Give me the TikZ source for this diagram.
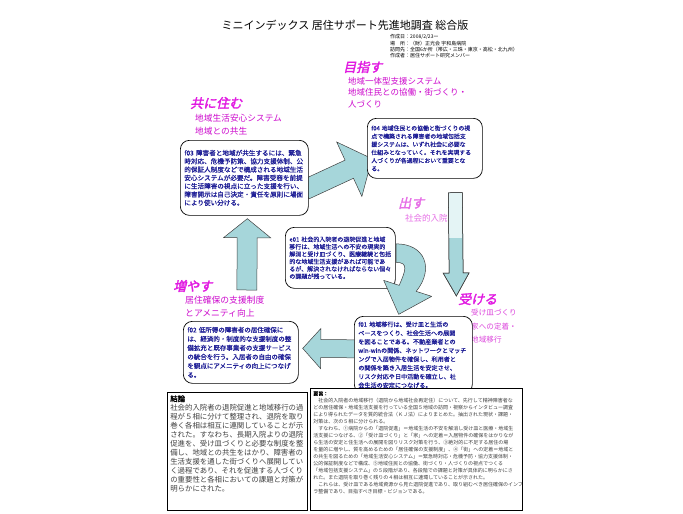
\documentclass[tikz,border=0pt]{standalone}
\usepackage{fontspec}
\setmainfont{Noto Sans CJK JP}
\newfontfamily\headfont[FakeSlant=0.22,FakeBold=2]{Noto Sans CJK JP}
\newfontfamily\boxfont[FakeBold=0.6]{Noto Sans CJK JP}
\newfontfamily\boldjp[FakeBold=1.2]{Noto Sans CJK JP}
\usetikzlibrary{calc,positioning,backgrounds}

\definecolor{boxblue}{RGB}{30,30,150}
\definecolor{headpink}{RGB}{225,25,225}
\definecolor{subpink}{RGB}{205,10,205}
\definecolor{softpink}{RGB}{230,110,230}
\definecolor{arrowfill}{RGB}{166,214,218}
\definecolor{arrowlight}{RGB}{228,244,245}

% font size with fixed line pitch
\newcommand\fs[2]{\fontsize{#1}{#2}\selectfont\lineskiplimit=-100pt\lineskip=0pt\relax}

% block arrow: [options]{from}{to}{shaft half width}{head half width}{head length}
\newcommand\fatarrow[6][]{%
  \path[fatarr,#1] let \p1=#2, \p2=#3,
    \n1={atan2(\y2-\y1,\x2-\x1)}, \n2={veclen(\x2-\x1,\y2-\y1)} in
    ($(\p1)+(\n1+90:#4)$) -- ++(\n1:\n2-#6) -- ++(\n1+90:#5-#4) -- (\p2)
    -- ($(\p1)+(\n1:\n2-#6)+(\n1-90:#5)$) -- ++(\n1+90:#5-#4)
    -- ($(\p1)+(\n1-90:#4)$) -- cycle;}

\begin{document}
\begin{tikzpicture}[x=1pt, y=-1pt,
  title/.style  ={font=\fs{11}{11}, inner sep=0pt},
  info/.style   ={font=\fs{5}{6.3}, align=left, inner sep=0pt, anchor=north west},
  box/.style    ={draw=black, line width=0.7pt, rounded corners=9pt, fill=white,
                  align=left, inner xsep=4pt, inner ysep=2pt, text=boxblue, anchor=north west},
  note/.style   ={draw=black, line width=0.6pt, fill=white, inner sep=3pt, anchor=north west},
  head/.style   ={font=\headfont\fs{13}{13}, text=headpink, inner sep=0pt, anchor=west},
  sub/.style    ={align=left, inner sep=0pt, text=subpink},
  fatarr/.style ={draw=black!75, line width=0.5pt, fill=arrowfill, line join=miter},
  bendarr/.style={draw=black!75, line width=0.5pt, fill=arrowfill, line join=round},
]

\useasboundingbox (0,0) rectangle (683,514);

\node[title] (title) at (345,25) {ミニインデックス 居住サポート先進地調査 総合版};
\node[info] (info) at (390,34.5) {作成日：2008/2/23ー\\場　所：（財）正光会 宇和島病院\\
  訪問先：全国6か所（帯広・三珠・東京・高松・北九州）\\作成者：居住サポート研究メンバー};

\node[head] (mezasu) at (343,67) {目指す};
\node[sub, font=\fs{8.5}{11.5}, below right=3.7pt and 5pt of mezasu.south west]
  (mezasuT) {地域一体型支援システム\\地域住民との協働・街づくり・\\人づくり};

\node[head] (tomoni) at (190,103) {共に住む};
\node[sub, font=\fs{8.7}{13}, below right=4.5pt and 5pt of tomoni.south west]
  (tomoniT) {地域生活安心システム\\地域との共生};

\node[head, text=softpink] (dasu) at (398,203) {出す};
\node[sub, text=softpink, font=\fs{8.5}{10}, below right=5pt and 7pt of dasu.south west]
  (dasuT) {社会的入院};

\node[head] (ukeru) at (458,299) {受ける};
\node[sub, text=softpink!60!subpink, font=\fs{7.6}{13.5}, below right=4pt and 13pt of ukeru.south west]
  (ukeruT) {受け皿づくり\\家への定着・\\地域移行};

\node[head] (fuyasu) at (173,286) {増やす};
\node[sub, font=\fs{8.8}{13}, below right=3.5pt and 12pt of fuyasu.south west]
  (fuyasuT) {居住確保の支援制度\\とアメニティ向上};

\node[box, text width=120pt, minimum height=75pt, font=\boxfont\fs{6.6}{8.3}] (f03) at (180,140)
  {f03 障害者と地域が共生するには、緊急\\時対応、危機予防策、協力支援体制、公\\
   的保証人制度などで構成される地域生活\\安心システムが必要だ。障害受容を前提\\
   に生活障害の視点に立った支援を行い、\\障害開示は自己決定・責任を原則に場面\\
   により使い分ける。};
\node[box, text width=107pt, minimum height=60pt, font=\boxfont\fs{5.9}{8.1}] (f04) at (367,118)
  {f04 地域住民との協働と街づくりの視\\点で構築される障害者の地域包括支\\
   援システムは、いずれ社会に必要な\\仕組みとなっていく。それを実現する\\
   人づくりが各過程において重要とな\\る。};
\node[box, text width=102pt, minimum height=61pt, font=\boxfont\fs{6}{7.4}] (eone) at (285,227)
  {e01 社会的入院者の退院促進と地域\\移行は、地域生活への不安の現実的\\
   解消と受け皿づくり、医療継続と包括\\的な地域生活支援があれば可能であ\\
   るが、解決されなければならない個々\\の課題が残っている。};
\node[box, text width=110pt, minimum height=77pt, font=\boxfont\fs{6.1}{8.7}] (f01) at (354,316)
  {f01 地域移行は、受け皿と生活の\\ベースをつくり、社会生活への展開\\
   を図ることである。不動産業者との\\\mbox{win-winの関係、ネットワークとマッチ}\\
   ングで入居物件を確保し、利用者と\\の関係を築き入居生活を安定させ、\\
   リスク対応や日中活動を確立し、社\\会生活の安定につなげる。};
\node[box, text width=107pt, minimum height=62pt, font=\boxfont\fs{6.5}{9}] (f02) at (183,321)
  {f02 低所得の障害者の居住確保に\\は、経済的・制度的な支援制度の整\\
   備拡充と既存事業者の支援サービス\\の統合を行う。入居者の自由の確保\\
   を観点にアメニティの向上につなげ\\る。};

\node[note] (concl) at (167,392) {\parbox[c][112pt][t]{134pt}{\fs{7.4}{9}%
  {\boldjp 結論}\\\color{black!75}%
  社会的入院者の退院促進と地域移行の過\\程が５相に分けて整理され、退院を取り\\
  巻く各相は相互に連関していることが示\\された。すなわち、長期入院よりの退院\\
  促進を、受け皿づくりと必要な制度を整\\備し、地域との共生をはかり、障害者の\\
  生活支援を通した街づくりへ展開してい\\く過程であり、それを促進する人づくり\\
  の重要性と各相においての課題と対策が\\明らかにされた。}};

\node[note] (summ) at (310,388) {\parbox[c][116pt][t]{206pt}{\fs{5}{7}%
  {\boldjp 要旨：}\\\color{black!75}%
  　社会的入院者の地域移行（退院から地域社会再定住）について、先行して精神障害者な\\
  どの居住確保・地域生活支援を行っている全国５地域の訪問・視察からインタビュー調査\\
  により得られたデータを質的統合法（ＫＪ法）によりまとめた。抽出された現状・課題・\\
  対策は、次の５相に分けられる。\\
  　すなわち、①病院からの「退院促進」＝地域生活の不安を解消し受け皿と医療・地域生\\
  活支援につなげる、②「受け皿づくり」と「家」への定着＝入居物件の確保をはかりなが\\
  ら生活の安定と住生活への展開を図りリスク対策を行う、③絶対的に不足する居住の場\\
  を量的に増やし、質を高めるための「居住確保の支援制度」、④「街」への定着＝地域と\\
  の共生を図るための「地域生活安心システム」＝緊急時対応・危機予防・協力支援体制・\\
  公的保証制度などで構成、⑤地域住民との協働、街づくり・人づくりの視点でつくる\\
  「地域包括支援システム」の５段階があり、各段階での課題と対策が具体的に明らかにさ\\
  れた。また退院を取り巻く残りの４相は相互に連環していることが示された。\\
  　これらは、受け皿である地域資源から見た退院促進であり、取り組むべき居住確保のインフ\\
  ラ整備であり、目指すべき目標・ビジョンである。}};

\coordinate (dn0) at ($(f04.south)+(30.5,14)$);
\coordinate (dn1) at ($(f01.north)+(43,-20)$);

\begin{scope}[on background layer]
  \fill[white] (0,0) rectangle (683,514);
  \fatarrow{($(f03.east)+(-4,12)$)}{($(f04.south west)+(5,-20)$)}{10pt}{30pt}{25pt}
  \fatarrow{($(f02.north)+(6,-31)$)}{($(f03.south)+(3,3)$)}{10pt}{23.5pt}{19pt}
  \fatarrow{($(f01.west)+(4,-6)$)}{($(f02.east)+(4,-4)$)}{9pt}{20pt}{18pt}
  \fatarrow{(dn0)}{(dn1)}{7pt}{13pt}{23pt}
  \fill[arrowlight] ($(dn0)+(-6.7,0.3)$) rectangle ($(dn0)+(6.7,45)$);
  \fatarrow[fill=none]{(dn0)}{(dn1)}{7pt}{13pt}{23pt}
\end{scope}

% curved arrow from e01 down to f01
\filldraw[bendarr] ($(eone.east)+(0.4,-14)$) .. controls ($(eone.east)+(29,-14)$) and ($(eone.east)+(39,10.5)$)
  .. ($(eone.east)+(20.5,33.5)$) -- ($(eone.east)+(36,38.5)$) -- ($(eone.east)+(3,56.5)$)
  -- ($(eone.east)+(-12,22.5)$) -- ($(eone.east)+(3.5,27.5)$)
  .. controls ($(eone.east)+(10,12.5)$) and ($(eone.east)+(13,4.5)$) .. ($(eone.east)+(0.4,4.5)$) -- cycle;

\end{tikzpicture}
\end{document}
